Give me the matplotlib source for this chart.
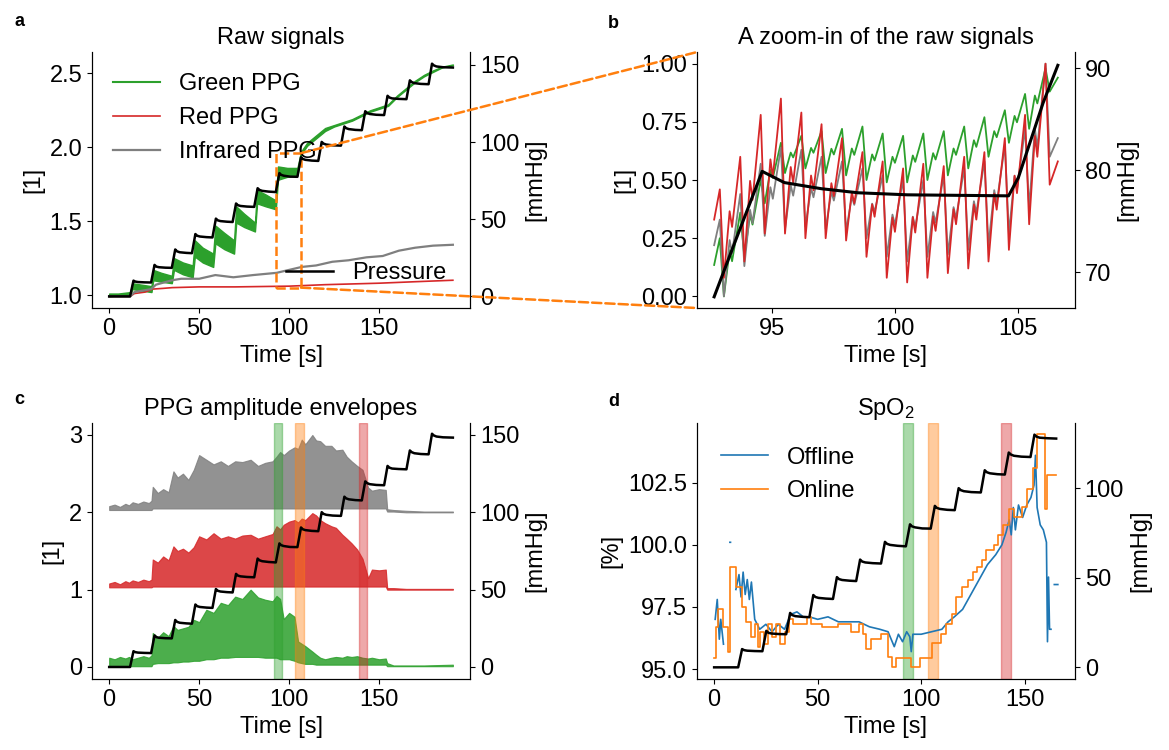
import numpy as np
import matplotlib
matplotlib.use("Agg")
import matplotlib.pyplot as plt
from matplotlib.patches import Rectangle, ConnectionPatch

plt.rcParams['font.family'] = ['Liberation Sans', 'DejaVu Sans']
plt.rcParams['font.size'] = 17
plt.rcParams['mathtext.fontset'] = 'custom'
plt.rcParams['mathtext.rm'] = 'Liberation Sans'
plt.rcParams['mathtext.default'] = 'regular'

GREEN = '#2ca02c'
RED = '#d62728'
GRAY = '#7f7f7f'
BLUE = '#1f77b4'
ORANGE = '#ff7f0e'

# cuff pressure staircase [s], [mmHg]
press_t = [0, 11.6, 13.5, 14.5, 16.0, 19.6, 23.3,
           25.2, 26.2, 27.7, 31.3, 34.8,
           36.7, 37.7, 39.2, 42.8, 46.0,
           47.9, 48.9, 50.4, 54.0, 57.4,
           59.3, 60.3, 61.8, 65.4, 68.6,
           70.5, 71.5, 73.0, 76.6, 80.6,
           82.5, 83.5, 85.0, 88.6, 92.6,
           94.6, 95.5, 97.0, 100.5, 104.6,
           106.6, 107.5, 109.0, 112.6, 116.2,
           118.1, 119.1, 120.6, 124.2, 128.8,
           130.7, 131.7, 133.2, 136.8, 140.4,
           142.3, 143.3, 144.8, 148.4, 152.8,
           154.7, 155.7, 157.2, 160.8, 165.2,
           167.1, 168.1, 169.6, 173.2, 177.5,
           179.4, 180.4, 181.9, 185.5, 191.0]
press_v = [0, 0, 10.2, 9.6, 9.3, 9.1, 9.0,
           20.4, 19.3, 18.9, 18.6, 18.5,
           30.4, 29.2, 28.6, 28.2, 28.0,
           40.4, 39.3, 38.8, 38.4, 38.2,
           50.4, 49.3, 48.8, 48.4, 48.2,
           60.2, 59.1, 58.6, 58.2, 58.0,
           70.1, 69.0, 68.4, 67.9, 67.6,
           79.9, 78.8, 78.2, 77.6, 77.5,
           90.2, 89.1, 88.5, 88.0, 87.8,
           100.1, 99.0, 98.4, 97.9, 97.7,
           110.1, 109.0, 108.4, 107.9, 107.7,
           120.0, 118.9, 118.2, 117.7, 117.5,
           130.0, 128.9, 128.3, 128.0, 127.8,
           140.0, 138.9, 138.2, 137.7, 137.5,
           150.8, 149.7, 149.0, 148.5, 148.3]

# panel a: raw PPG (green as band, red / infrared as lines)
ga_t = [0, 5, 11.8, 12.8, 18, 23.5, 24.5, 29, 34.8, 36, 41, 46.4, 47.6, 52, 57.8,
        59, 64, 69.4, 70.6, 75, 81, 82.2, 87, 92.6, 93.8, 99, 104.6, 106.6, 110,
        115, 120, 125, 130, 135, 140, 145, 150, 155, 160, 165, 170, 175, 180, 185, 191]
ga_hi = [1.01, 1.01, 1.02, 1.08, 1.07, 1.06, 1.17, 1.15, 1.13, 1.25, 1.22, 1.20, 1.37,
         1.32, 1.28, 1.47, 1.42, 1.37, 1.60, 1.55, 1.49, 1.71, 1.68, 1.64, 1.87, 1.86,
         1.86, 1.97, 2.03, 2.08, 2.13, 2.15, 2.17, 2.19, 2.22, 2.25, 2.27, 2.29, 2.35,
         2.40, 2.45, 2.49, 2.52, 2.545, 2.56]
ga_lo = [0.99, 1.0, 1.0, 1.04, 1.03, 1.02, 1.10, 1.09, 1.08, 1.17, 1.14, 1.12, 1.26,
         1.22, 1.19, 1.35, 1.31, 1.28, 1.49, 1.46, 1.43, 1.62, 1.60, 1.58, 1.78, 1.80,
         1.81, 1.95, 2.01, 2.06, 2.11, 2.14, 2.16, 2.18, 2.21, 2.24, 2.26, 2.28, 2.34,
         2.39, 2.44, 2.48, 2.51, 2.54, 2.555]
ra_t = [0, 11.6, 14, 20, 24, 30, 35, 50, 70, 100, 120, 150, 170, 191]
ra_v = [0.99, 0.99, 1.01, 1.02, 1.04, 1.045, 1.05, 1.055, 1.055, 1.06, 1.07, 1.08, 1.09, 1.10]
ia_t = [0, 11.6, 14, 23.3, 26, 35, 40, 50, 59, 69, 80, 93, 100, 107, 115, 124, 133,
        143, 152, 161, 170, 180, 191]
ia_v = [0.99, 0.99, 1.02, 1.04, 1.07, 1.10, 1.11, 1.11, 1.135, 1.12, 1.135, 1.15, 1.17,
        1.19, 1.20, 1.225, 1.235, 1.255, 1.264, 1.30, 1.32, 1.334, 1.34]

# zoom window of panel a / b
zoom_t0, zoom_t1 = 92.65, 106.6
zoom_lo, zoom_hi = 1.05, 1.96

# panel b: per-beat peak / trough values (normalised)
b_peak_t = [92.88, 93.71, 94.54, 95.36, 96.19, 97.01, 97.84, 98.67, 99.49, 100.32,
            101.14, 101.97, 102.80, 103.62, 104.45, 105.27, 106.10]
red_pk = [0.46, 0.60, 0.78, 0.85, 0.79, 0.74, 0.68, 0.62, 0.58, 0.55, 0.57, 0.56, 0.60,
          0.62, 0.68, 0.78, 1.00]
red_tr = [0.08, 0.15, 0.27, 0.27, 0.25, 0.25, 0.24, 0.17, 0.08, 0.06, 0.08, 0.10, 0.12,
          0.15, 0.20, 0.31, 0.48]
ir_pk = [0.33, 0.44, 0.57, 0.64, 0.63, 0.60, 0.58, 0.55, 0.52, 0.50, 0.50, 0.52, 0.55,
         0.58, 0.65, 0.72, 1.00]
ir_tr = [0.00, 0.13, 0.26, 0.29, 0.30, 0.29, 0.28, 0.25, 0.17, 0.15, 0.17, 0.18, 0.20,
         0.22, 0.27, 0.38, 0.60]
grn_pk = [0.25, 0.36, 0.50, 0.66, 0.69, 0.71, 0.72, 0.73, 0.70, 0.69, 0.70, 0.71, 0.73,
          0.77, 0.80, 0.87, 0.98]
grn_tr = [0.00, 0.17, 0.40, 0.53, 0.55, 0.53, 0.52, 0.50, 0.49, 0.49, 0.50, 0.52, 0.55,
          0.60, 0.66, 0.72, 0.88]
b_start = {'red': 0.33, 'ir': 0.22, 'grn': 0.135}
b_end = {'red': 0.58, 'ir': 0.68, 'grn': 0.94}
# pulse shape between two peaks: (fraction of beat, level between trough and next peak)
pulse_phase = [0.2, 0.48, 0.6]
pulse_level = [0.0, 0.55, 0.42]
b_press_t = [92.65, 93.5, 94.6, 95.5, 97.0, 98.5, 100.5, 104.6, 105.0, 106.0, 106.6]
b_press_v = [67.6, 73.0, 79.9, 78.8, 78.2, 77.8, 77.6, 77.5, 79.3, 86.6, 90.3]

# panel c: amplitude envelopes (offset 0 / 1 / 2)
c_t = [0, 3, 6, 9, 11, 13, 16, 19, 22, 23.5,
       24.2, 27, 30, 33, 35.7, 38, 41, 44, 47, 50,
       54, 58, 62, 66, 70, 74, 78.6, 82.7, 86.7, 90.8,
       93, 95, 97, 100, 103, 105, 107, 109, 112.9, 115,
       117.3, 120, 123.5, 126, 129.6, 132, 134.7, 137.8, 140.8, 143.9,
       146, 150, 153.7, 154.5, 158, 165, 175, 191]
ci_hi = [2.08, 2.10, 2.07, 2.11, 2.09, 2.13, 2.11, 2.14, 2.12, 2.15,
         2.33, 2.25, 2.30, 2.26, 2.53, 2.45, 2.50, 2.42, 2.55, 2.74,
         2.68, 2.62, 2.66, 2.60, 2.66, 2.65, 2.68, 2.60, 2.64, 2.66,
         2.72, 2.78, 2.74, 2.80, 2.84, 2.82, 2.94, 2.88, 3.00, 2.93,
         2.92, 2.86, 2.86, 2.80, 2.81, 2.72, 2.66, 2.60, 2.55, 2.32,
         2.28, 2.30, 2.29, 2.04, 2.03, 2.02, 2.01, 2.01]
ci_lo = [2.03, 2.03, 2.03, 2.03, 2.03, 2.03, 2.03, 2.03, 2.03, 2.03,
         2.05, 2.05, 2.05, 2.05, 2.05, 2.05, 2.05, 2.05, 2.05, 2.05,
         2.05, 2.05, 2.05, 2.05, 2.05, 2.05, 2.05, 2.05, 2.05, 2.05,
         2.05, 2.05, 2.05, 2.05, 2.05, 2.05, 2.05, 2.05, 2.05, 2.05,
         2.05, 2.05, 2.05, 2.05, 2.05, 2.05, 2.05, 2.05, 2.05, 2.05,
         2.05, 2.05, 2.05, 2.01, 2.01, 2.00, 2.00, 2.00]
cr_hi = [1.08, 1.10, 1.07, 1.11, 1.09, 1.12, 1.10, 1.13, 1.11, 1.13,
         1.39, 1.35, 1.43, 1.38, 1.56, 1.50, 1.53, 1.48, 1.55, 1.69,
         1.65, 1.73, 1.66, 1.69, 1.66, 1.70, 1.71, 1.66, 1.69, 1.72,
         1.82, 1.78, 1.84, 1.88, 1.90, 1.87, 1.92, 1.90, 1.99, 1.96,
         1.90, 1.86, 1.82, 1.80, 1.71, 1.66, 1.60, 1.52, 1.40, 1.15,
         1.26, 1.25, 1.26, 1.02, 1.02, 1.01, 1.01, 1.01]
cr_lo = [1.03, 1.03, 1.03, 1.03, 1.03, 1.03, 1.03, 1.03, 1.03, 1.03,
         1.04, 1.04, 1.04, 1.04, 1.04, 1.04, 1.04, 1.04, 1.04, 1.04,
         1.04, 1.04, 1.04, 1.04, 1.04, 1.04, 1.04, 1.04, 1.04, 1.04,
         1.04, 1.04, 1.04, 1.04, 1.04, 1.04, 1.04, 1.04, 1.04, 1.04,
         1.04, 1.04, 1.04, 1.04, 1.04, 1.04, 1.04, 1.04, 1.04, 1.04,
         1.04, 1.04, 1.04, 1.00, 1.00, 1.00, 1.00, 1.00]
cg_hi = [0.12, 0.10, 0.13, 0.11, 0.13, 0.10, 0.12, 0.14, 0.12, 0.15,
         0.44, 0.38, 0.45, 0.40, 0.53, 0.48, 0.50, 0.52, 0.61, 0.58,
         0.74, 0.70, 0.83, 0.80, 0.91, 0.88, 1.00, 0.90, 0.87, 0.85,
         0.92, 0.88, 0.62, 0.70, 0.65, 0.33, 0.30, 0.27, 0.20, 0.16,
         0.12, 0.10, 0.12, 0.13, 0.12, 0.14, 0.13, 0.14, 0.12, 0.11,
         0.12, 0.10, 0.11, 0.05, 0.02, 0.02, 0.02, 0.03]
cg_lo = [0.01, 0.01, 0.01, 0.01, 0.01, 0.01, 0.01, 0.01, 0.01, 0.01,
         0.04, 0.05, 0.05, 0.05, 0.06, 0.06, 0.07, 0.07, 0.08, 0.08,
         0.10, 0.10, 0.12, 0.12, 0.13, 0.13, 0.13, 0.13, 0.12, 0.12,
         0.12, 0.10, 0.10, 0.10, 0.08, 0.06, 0.05, 0.04, 0.04, 0.03,
         0.03, 0.03, 0.03, 0.03, 0.03, 0.03, 0.03, 0.03, 0.03, 0.03,
         0.03, 0.03, 0.03, 0.01, 0.01, 0.01, 0.01, 0.01]

# highlighted intervals [s]
spans = [(91.4, 95.9, GREEN), (103.5, 108.1, ORANGE), (138.7, 143.2, RED)]

# panel d: SpO2 [%]
on_t = [0, 0.8, 2.0, 4.2, 6.5, 7.8, 10.5, 13.6, 15.5, 18.0, 19.6, 21.0, 22.0, 24.0,
        26.0, 28.0, 30.0, 32.0, 34.0, 36.0, 38.0, 45.0, 47.0, 52.0, 60.0, 66.0, 70.0,
        72.0, 73.5, 76.0, 80.5, 84.0, 86.0, 88.0, 95.0, 99.6, 105.0, 109.6, 112.0,
        115.0, 117.0, 119.6, 122.4, 125.0, 127.0, 129.6, 131.5, 135.0, 137.0, 139.6,
        142.4, 145.0, 148.7, 151.0, 154.2, 156.0, 159.6, 161.0, 165.0]
on_v = [95.45, 96.7, 97.4, 96.7, 95.7, 99.1, 98.3, 97.5, 96.9, 96.3, 96.8, 95.9, 96.5,
        96.0, 96.8, 96.3, 96.8, 96.0, 96.5, 97.0, 96.8, 97.1, 96.8, 96.7, 96.8, 96.5,
        96.8, 96.4, 95.8, 96.2, 96.4, 95.5, 95.1, 95.45, 95.1, 95.45, 96.05, 96.4,
        96.8, 97.2, 97.9, 98.3, 98.6, 98.9, 99.1, 99.4, 99.8, 100.0, 100.4, 100.8,
        101.45, 101.1, 101.5, 102.25, 103.1, 104.45, 101.45, 102.8, 102.8]
off_t = [0.5, 1.5, 2.5, 3.2, 4.5, np.nan, 7.6, 7.9, np.nan, 10.5, 12, 13, 14, 15, 16,
         17, 18, 19.6, 22, 25, 28, 31, 34, 37, 40, 43, 46, 50, 55, 60, 65, 70, 75, 80,
         84, 87, 89, 91, 93, 94.5, 95.2, 96, 100, 105, 110, 113, 116, 120, 124, 128,
         132, 136, 139, 141, 142.5, 143.5, 144.5, 145.5, 147, 149, 151, 153, 154.5,
         155.2, 156, 157.5, 159, 160.5, 161, 161.5, 162, 162.7, np.nan, 164.3, 166.0]
off_v = [97.0, 97.8, 96.2, 97.0, 96.0, np.nan, 100.1, 100.1, np.nan, 98.2, 98.8, 97.9,
         98.9, 98.0, 98.6, 97.8, 98.5, 97.0, 96.6, 96.8, 96.5, 96.8, 96.6, 97.2, 97.3,
         97.1, 97.1, 97.0, 97.1, 96.9, 96.9, 96.9, 96.7, 96.6, 96.5, 95.9, 96.4, 96.1,
         96.5, 96.3, 95.7, 96.4, 96.4, 96.5, 96.6, 96.9, 97.1, 97.4, 98.0, 98.6, 99.2,
         99.6, 100.0, 100.5, 101.0, 100.4, 101.5, 100.6, 101.6, 101.1, 101.6, 101.9,
         102.4, 103.6, 101.5, 100.8, 100.6, 100.1, 96.1, 98.7, 96.6, 96.6, np.nan,
         98.4, 98.4]


def pulse_trace(peaks, troughs, v0, v1):
    xs, ys = [zoom_t0], [v0]
    for k, p in enumerate(b_peak_t):
        xs.append(p)
        ys.append(peaks[k])
        if k + 1 < len(b_peak_t):
            per = b_peak_t[k + 1] - p
            for ph, lev in zip(pulse_phase, pulse_level):
                xs.append(p + ph * per)
                ys.append(troughs[k] + lev * (peaks[k + 1] - troughs[k]))
    xs.append(b_peak_t[-1] + 0.17)
    ys.append(troughs[-1])
    xs.append(zoom_t1)
    ys.append(v1)
    return xs, ys


def style(ax, ax2):
    for a in (ax, ax2):
        a.spines['top'].set_visible(False)
        a.tick_params(labelsize=17)
    ax.set_xlabel('Time [s]')


fig = plt.figure(figsize=(11.69, 7.5), dpi=100)
ax_a = fig.add_axes([0.0787, 0.5893, 0.3234, 0.3413])
ax_b = fig.add_axes([0.5962, 0.5893, 0.3234, 0.3413])
ax_c = fig.add_axes([0.0787, 0.0947, 0.3234, 0.3413])
ax_d = fig.add_axes([0.5962, 0.0947, 0.3234, 0.3413])

# ---- a
ax_a.fill_between(ga_t, ga_lo, ga_hi, color=GREEN, lw=1.0)
ax_a.plot([], [], color=GREEN, lw=1.5, label='Green PPG')
ax_a.plot(ra_t, ra_v, color=RED, lw=1.2, label='Red PPG')
ax_a.plot(ia_t, ia_v, color=GRAY, lw=1.6, label='Infrared PPG')
ax_a.add_patch(Rectangle((zoom_t0, zoom_lo), zoom_t1 - zoom_t0, zoom_hi - zoom_lo,
                         fill=False, ec=ORANGE, ls='--', lw=1.8, zorder=4))
ax_a.set_ylim(0.912, 2.644)
ax_a.set_yticks([1.0, 1.5, 2.0, 2.5])
ax_a.set_xticks([0, 50, 100, 150])
ax_a.set_ylabel('[1]')
ax_a.set_title('Raw signals', fontsize=17)
ax_a.legend(loc='upper left', frameon=False, fontsize=17, borderaxespad=0.5)
ax_a2 = ax_a.twinx()
ax_a2.plot(press_t, press_v, color='black', lw=1.8, label='Pressure')
ax_a2.set_ylabel('[mmHg]')
ax_a2.legend(loc='lower right', frameon=False, fontsize=17, borderaxespad=0.6)
style(ax_a, ax_a2)

# ---- b
for pk, tr, key, col in [(grn_pk, grn_tr, 'grn', GREEN), (ir_pk, ir_tr, 'ir', GRAY),
                         (red_pk, red_tr, 'red', RED)]:
    xs, ys = pulse_trace(pk, tr, b_start[key], b_end[key])
    ax_b.plot(xs, ys, color=col, lw=1.3)
ax_b.set_ylabel('[1]')
ax_b.set_yticks([0, 0.25, 0.5, 0.75, 1.0])
ax_b.set_title('A zoom-in of the raw signals', fontsize=17)
ax_b2 = ax_b.twinx()
ax_b2.plot(b_press_t, b_press_v, color='black', lw=2.2)
ax_b2.set_ylim(66.5, 91.6)
ax_b2.set_yticks([70, 80, 90])
ax_b2.set_ylabel('[mmHg]')
style(ax_b, ax_b2)

for corner_y, frac_y in [(zoom_hi, 1), (zoom_lo, 0)]:
    con = ConnectionPatch(xyA=(zoom_t1, corner_y), coordsA=ax_a.transData,
                          xyB=(0, frac_y), coordsB=ax_b.transAxes,
                          color=ORANGE, ls='--', lw=1.8)
    fig.add_artist(con)

# ---- c
ax_c.fill_between(c_t, cg_lo, cg_hi, color=GREEN, lw=0.8, alpha=0.85)
ax_c.fill_between(c_t, cr_lo, cr_hi, color=RED, lw=0.8, alpha=0.85)
ax_c.fill_between(c_t, ci_lo, ci_hi, color=GRAY, lw=0.8, alpha=0.85)
for x0, x1, col in spans:
    ax_c.axvspan(x0, x1, color=col, alpha=0.4, lw=1)
ax_c.set_ylim(-0.155, 3.155)
ax_c.set_yticks([0, 1, 2, 3])
ax_c.set_xticks([0, 50, 100, 150])
ax_c.set_ylabel('[1]')
ax_c.set_title('PPG amplitude envelopes', fontsize=17)
ax_c2 = ax_c.twinx()
ax_c2.plot(press_t, press_v, color='black', lw=1.8)
ax_c2.set_ylim(-7.75, 157.75)
ax_c2.set_yticks([0, 50, 100, 150])
ax_c2.set_ylabel('[mmHg]')
style(ax_c, ax_c2)

# ---- d
ax_d.plot(off_t, off_v, color=BLUE, lw=1.2, label='Offline')
ax_d.plot(on_t, on_v, color=ORANGE, lw=1.2, drawstyle='steps-post', label='Online')
for x0, x1, col in spans:
    ax_d.axvspan(x0, x1, color=col, alpha=0.4, lw=1)
ax_d.set_yticks([95.0, 97.5, 100.0, 102.5])
ax_d.set_ylim(94.6, 104.9)
ax_d.set_xticks([0, 50, 100, 150])
ax_d.set_ylabel('[%]')
ax_d.set_title('SpO$_2$', fontsize=17)
ax_d.legend(loc='upper left', frameon=False, fontsize=17, borderaxespad=0.6)
ax_d2 = ax_d.twinx()
d_t = [t for t in press_t if t <= 165.2]
ax_d2.plot(d_t, press_v[:len(d_t)], color='black', lw=1.8)
ax_d2.set_yticks([0, 50, 100])
ax_d2.set_ylabel('[mmHg]')
style(ax_d, ax_d2)

for x, y, s in [(0.012, 0.965, 'a'), (0.52, 0.962, 'b'), (0.012, 0.462, 'c'),
                (0.52, 0.458, 'd')]:
    fig.text(x, y, s, fontsize=13, fontweight='bold')

fig.savefig('out.png', dpi=100)
